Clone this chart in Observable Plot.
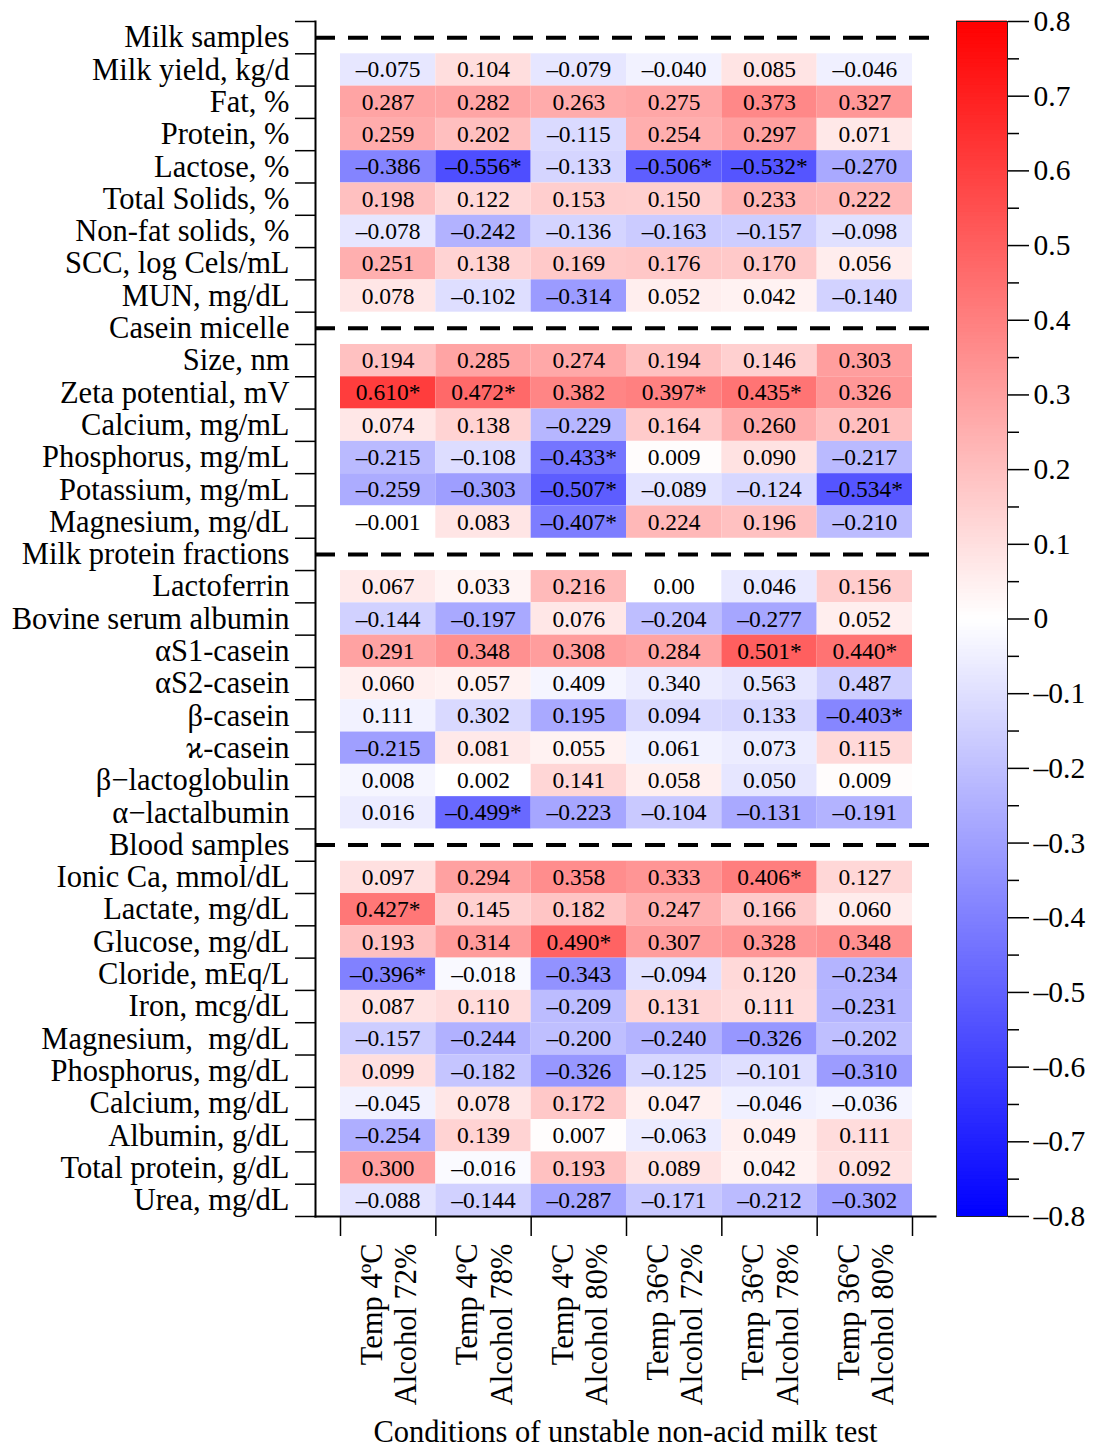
<!DOCTYPE html>
<html><head><meta charset="utf-8">
<script src="https://cdn.jsdelivr.net/npm/d3@7"></script>
<script src="https://cdn.jsdelivr.net/npm/@observablehq/plot@0.6"></script>
<style>
body{margin:0;background:#fff}
#wrap{position:relative;width:1096px;height:1448px}
#wrap svg{position:absolute;top:0;left:0}
svg text{white-space:pre}
</style></head><body><div id="wrap"></div>
<script>
// ---------- data ----------
const conditions = ["Temp 4ºC\nAlcohol 72%","Temp 4ºC\nAlcohol 78%","Temp 4ºC\nAlcohol 80%","Temp 36ºC\nAlcohol 72%","Temp 36ºC\nAlcohol 78%","Temp 36ºC\nAlcohol 80%"];
const xTitle = "Conditions of unstable non-acid milk test";
const sectionNames = ["Milk samples","Casein micelle","Milk protein fractions","Blood samples"];

const milkRows = ["Milk yield, kg/d","Fat, %","Protein, %","Lactose, %","Total Solids, %","Non-fat solids, %","SCC, log Cels/mL","MUN, mg/dL"];
const milkCells = [
 ["–0.075","0.104","–0.079","–0.040","0.085","–0.046"],
 ["0.287","0.282","0.263","0.275","0.373","0.327"],
 ["0.259","0.202","–0.115","0.254","0.297","0.071"],
 ["–0.386","–0.556*","–0.133","–0.506*","–0.532*","–0.270"],
 ["0.198","0.122","0.153","0.150","0.233","0.222"],
 ["–0.078","–0.242","–0.136","–0.163","–0.157","–0.098"],
 ["0.251","0.138","0.169","0.176","0.170","0.056"],
 ["0.078","–0.102","–0.314","0.052","0.042","–0.140"]];

const caseinRows = ["Size, nm","Zeta potential, mV","Calcium, mg/mL","Phosphorus, mg/mL","Potassium, mg/mL","Magnesium, mg/dL"];
const caseinCells = [
 ["0.194","0.285","0.274","0.194","0.146","0.303"],
 ["0.610*","0.472*","0.382","0.397*","0.435*","0.326"],
 ["0.074","0.138","–0.229","0.164","0.260","0.201"],
 ["–0.215","–0.108","–0.433*","0.009","0.090","–0.217"],
 ["–0.259","–0.303","–0.507*","–0.089","–0.124","–0.534*"],
 ["–0.001","0.083","–0.407*","0.224","0.196","–0.210"]];

const proteinRows = ["Lactoferrin","Bovine serum albumin","αS1-casein","αS2-casein","β-casein","ϰ-casein","β−lactoglobulin","α−lactalbumin"];
const proteinCells = [
 ["0.067","0.033","0.216","0.00","0.046","0.156"],
 ["–0.144","–0.197","0.076","–0.204","–0.277","0.052"],
 ["0.291","0.348","0.308","0.284","0.501*","0.440*"],
 ["0.060","0.057","0.409","0.340","0.563","0.487"],
 ["0.111","0.302","0.195","0.094","0.133","–0.403*"],
 ["–0.215","0.081","0.055","0.061","0.073","0.115"],
 ["0.008","0.002","0.141","0.058","0.050","0.009"],
 ["0.016","–0.499*","–0.223","–0.104","–0.131","–0.191"]];
// shading of this block (differs from printed numbers)
const proteinShade = [
 [0.067,0.033,0.216,0.00,-0.07,0.156],
 [-0.144,-0.27,0.076,-0.204,-0.28,0.052],
 [0.291,0.348,0.308,0.284,0.501,0.440],
 [0.05,0.04,-0.03,-0.06,-0.08,-0.15],
 [-0.04,-0.12,-0.27,-0.12,-0.13,-0.38],
 [-0.30,0.07,0.04,-0.04,-0.06,0.12],
 [-0.03,0.00,0.13,0.05,-0.08,0.01],
 [-0.06,-0.47,-0.28,-0.17,-0.27,-0.24]];

const bloodRows = ["Ionic Ca, mmol/dL","Lactate, mg/dL","Glucose, mg/dL","Cloride, mEq/L","Iron, mcg/dL","Magnesium,  mg/dL","Phosphorus, mg/dL","Calcium, mg/dL","Albumin, g/dL","Total protein, g/dL","Urea, mg/dL"];
const bloodCells = [
 ["0.097","0.294","0.358","0.333","0.406*","0.127"],
 ["0.427*","0.145","0.182","0.247","0.166","0.060"],
 ["0.193","0.314","0.490*","0.307","0.328","0.348"],
 ["–0.396*","–0.018","–0.343","–0.094","0.120","–0.234"],
 ["0.087","0.110","–0.209","0.131","0.111","–0.231"],
 ["–0.157","–0.244","–0.200","–0.240","–0.326","–0.202"],
 ["0.099","–0.182","–0.326","–0.125","–0.101","–0.310"],
 ["–0.045","0.078","0.172","0.047","–0.046","–0.036"],
 ["–0.254","0.139","0.007","–0.063","0.049","0.111"],
 ["0.300","–0.016","0.193","0.089","0.042","0.092"],
 ["–0.088","–0.144","–0.287","–0.171","–0.212","–0.302"]];

const barTicks = [-0.8,-0.7,-0.6,-0.5,-0.4,-0.3,-0.2,-0.1,0,0.1,0.2,0.3,0.4,0.5,0.6,0.7,0.8];
const barMinor = [-0.75,-0.65,-0.55,-0.45,-0.35,-0.25,-0.15,-0.05,0.05,0.15,0.25,0.35,0.45,0.55,0.65,0.75];

// ---------- table ----------
const sections = [
 {name: sectionNames[0], rows: milkRows, cells: milkCells},
 {name: sectionNames[1], rows: caseinRows, cells: caseinCells},
 {name: sectionNames[2], rows: proteinRows, cells: proteinCells, shade: proteinShade},
 {name: sectionNames[3], rows: bloodRows, cells: bloodCells}
];
const parseVal = t => +t.replace("–","-").replace("*","");
const rowLabels = [], headerIdx = [], cells = [];
sections.forEach(s => {
  headerIdx.push(rowLabels.length); rowLabels.push(s.name);
  s.rows.forEach((r, i) => {
    const ri = rowLabels.length; rowLabels.push(r);
    s.cells[i].forEach((t, c) => cells.push({row: ri, col: c, text: t, value: s.shade ? s.shade[i][c] : parseVal(t)}));
  });
});
const nRows = rowLabels.length;

const FONT = "'Liberation Serif','Times New Roman',serif";
const colorScale = {type: "linear", domain: [-0.8, 0, 0.8], range: ["#0000ff", "#ffffff", "#ff0000"], interpolate: "rgb"};

const main = Plot.plot({
  width: 1096, height: 1448,
  marginLeft: 315, marginRight: 161, marginTop: 21, marginBottom: 232,
  style: {fontFamily: FONT, fontSize: "30.5px", background: "white", color: "black"},
  x: {domain: [0, 6], range: [340, 912], label: null},
  y: {domain: [0, nRows], range: [21, 1216], label: null},
  color: colorScale,
  marks: [
    Plot.rect(cells, {x1: "col", x2: d => d.col + 1, y1: "row", y2: d => d.row + 1, fill: "value"}),
    Plot.text(cells, {x: d => d.col + 0.5, y: d => d.row + 0.5, text: "text", fontSize: 23.5, fill: "black"}),
    Plot.ruleY(headerIdx, {y: d => d + 0.5, stroke: "black", strokeWidth: 4, strokeDasharray: "20,13"}),
    Plot.axisY({ticks: d3.range(0, nRows + 1), tickSize: 20, tickFormat: () => "", label: null, strokeWidth: 1.5}),
    Plot.axisY({ticks: d3.range(0.5, nRows), tickSize: 0, tickPadding: 26, tickFormat: d => rowLabels[Math.floor(d)], label: null}),
    Plot.axisX({ticks: d3.range(0, 7), tickSize: 20, tickFormat: () => "", label: null, strokeWidth: 1.5}),
    Plot.text(conditions, {x: (d, i) => i + 0.5, frameAnchor: "bottom", dy: 27, rotate: -90, textAnchor: "end", lineAnchor: "middle", lineHeight: 1.12, text: d => d, fontSize: 30.5}),
    Plot.text([xTitle], {frameAnchor: "bottom", dy: 225, fontSize: 30.5, text: d => d}),
    Plot.frame({anchor: "left", strokeWidth: 2}),
    Plot.frame({anchor: "bottom", strokeWidth: 2})
  ]
});

const step = 0.005;
const barSteps = d3.range(-0.8, 0.8 - step / 2, step);
const bar = Plot.plot({
  width: 1096, height: 1448,
  marginLeft: 956, marginRight: 89, marginTop: 21, marginBottom: 232,
  style: {fontFamily: FONT, fontSize: "29.5px", background: "transparent", color: "black"},
  y: {domain: [-0.8, 0.8], label: null},
  color: colorScale,
  marks: [
    Plot.rect(barSteps, {y1: d => d, y2: d => d + step, fill: d => d + step / 2, insetTop: -0.5, insetBottom: -0.5}),
    Plot.frame({stroke: "#222", strokeWidth: 1}),
    Plot.axisY({anchor: "right", ticks: barTicks, tickSize: 21, tickPadding: 5, label: null, strokeWidth: 1.5,
      tickFormat: d => Math.abs(d) < 1e-9 ? "0" : (d < 0 ? "–" : "") + Math.abs(d).toFixed(1)}),
    Plot.axisY({anchor: "right", ticks: barMinor, tickSize: 11, tickFormat: () => "", label: null, strokeWidth: 1.5})
  ]
});

const wrap = document.getElementById("wrap");
wrap.appendChild(main);
wrap.appendChild(bar);
</script></body></html>
